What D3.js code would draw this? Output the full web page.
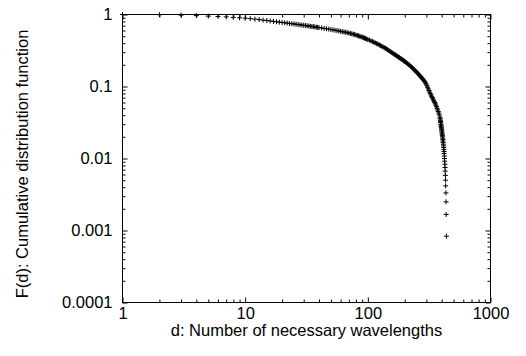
<!DOCTYPE html>
<html>
<head>
<meta charset="utf-8">
<script src="https://cdn.jsdelivr.net/npm/d3@7"></script>
<style>
  body { margin: 0; background: #fff; }
  svg text { font-family: "Liberation Sans", Arial, sans-serif; fill: #000; }
</style>
</head>
<body>
<svg id="chart" width="526" height="356"></svg>
<script>
// d = number of necessary wavelengths, F = cumulative distribution
const dHead = [1, 2, 3, 4, 5, 6, 7, 8, 9, 10, 11, 12, 13, 14, 15, 16, 17, 18, 19, 20,
  21, 22, 23, 24, 25, 26, 27, 28, 29, 30, 31, 32, 33, 34, 35, 36, 37, 38, 39, 40];
const fHead = [1.000, 0.994, 0.981, 0.965, 0.950, 0.938, 0.926, 0.911, 0.900, 0.888,
  0.876, 0.863, 0.850, 0.836, 0.824, 0.812, 0.802, 0.792, 0.783, 0.774,
  0.767, 0.760, 0.752, 0.745, 0.738, 0.732, 0.726, 0.719, 0.714, 0.708,
  0.702, 0.697, 0.691, 0.686, 0.681, 0.677, 0.672, 0.667, 0.662, 0.658];

const dMid = [42, 44, 46, 48, 50, 52, 54, 56, 58, 60, 62, 64, 66, 68, 70, 72, 74, 76, 78, 80,
  82, 84, 86, 88, 90, 92, 94, 96, 98, 100,
  103, 106, 109, 112, 115, 118, 121, 124, 127, 130, 133, 136, 139, 142, 145, 148, 151,
  154, 157, 160, 163, 166, 169, 172, 175, 178, 181, 184, 187, 190, 193, 196, 199];
const fMid = [0.649, 0.641, 0.634, 0.627, 0.619, 0.612, 0.605, 0.598, 0.591, 0.584,
  0.578, 0.571, 0.566, 0.560, 0.553, 0.546, 0.539, 0.533, 0.526, 0.519,
  0.512, 0.504, 0.498, 0.491, 0.484, 0.477, 0.470, 0.463, 0.456, 0.449,
  0.440, 0.431, 0.422, 0.412, 0.403, 0.395, 0.387, 0.378, 0.370, 0.362, 0.355, 0.347,
  0.339, 0.332, 0.324, 0.317, 0.310, 0.303, 0.296, 0.289, 0.283, 0.278, 0.272, 0.267,
  0.261, 0.256, 0.251, 0.246, 0.242, 0.237, 0.233, 0.228, 0.224];

const dHigh = [203, 207, 211, 215, 219, 223, 227, 231, 235, 239, 243, 247, 251, 255, 259,
  263, 267, 271, 275, 279, 283, 287, 291, 295, 299, 303, 307, 311, 315, 319, 323, 327,
  331, 335, 339, 343, 347, 351, 355, 359, 363, 367, 371, 375, 379, 383, 387];
const fHigh = [0.2183, 0.2128, 0.2074, 0.2020, 0.1970, 0.1917, 0.1862, 0.1809, 0.1758,
  0.1708, 0.1660, 0.1613, 0.1567, 0.1523, 0.1480, 0.1438, 0.1397, 0.1357, 0.1319, 0.1281,
  0.1243, 0.1204, 0.1166, 0.1122, 0.1080, 0.1026, 0.0975, 0.0926, 0.0880, 0.0836, 0.0799,
  0.0764, 0.0731, 0.0701, 0.0673, 0.0647, 0.0623, 0.0599, 0.0575, 0.0550, 0.0524, 0.0498,
  0.0473, 0.0449, 0.0427, 0.0403, 0.0376];

const dTail = [389, 390, 391, 392, 393, 394, 395, 396, 397, 398, 399, 400, 401, 402, 403,
  404, 405, 406, 408, 409, 410, 411, 413, 414, 415, 417, 418, 419, 421, 422, 423, 425,
  426, 427, 429, 430, 431, 433, 434, 435, 437];
const fTail = [0.0358, 0.0342, 0.0333, 0.0325, 0.0317, 0.0300, 0.0292, 0.0283, 0.0275,
  0.0267, 0.0258, 0.0250, 0.0242, 0.0233, 0.0225, 0.0217, 0.0208, 0.0200, 0.0192, 0.0183,
  0.0175, 0.0167, 0.0158, 0.0150, 0.0142, 0.0133, 0.0125, 0.0117, 0.0108, 0.0100,
  0.00917, 0.00833, 0.00750, 0.00667, 0.00583, 0.00500, 0.00417, 0.00333, 0.00250,
  0.00167, 0.000833];

const xTicks = [1, 10, 100, 1000];
const yTicks = [0.0001, 0.001, 0.01, 0.1, 1];
const yTickLabels = ["0.0001", "0.001", "0.01", "0.1", "1"];
const xTitle = "d: Number of necessary wavelengths";
const yTitle = "F(d): Cumulative distribution function";

const dAll = dHead.concat(dMid, dHigh, dTail);
const fAll = fHead.concat(fMid, fHigh, fTail);
const points = dAll.map((d, i) => ({ d: d, f: fAll[i] }));

const L = 122.5, R = 490.5, T = 14.5, B = 302.5;
const MAJOR = 5, MINOR = 3;
const FONT = "16.5px";

const x = d3.scaleLog().domain([1, 1000]).range([L, R]);
const y = d3.scaleLog().domain([0.0001, 1]).range([B, T]);

// minor ticks: 2..9 of each decade
const xMinor = [];
[1, 10, 100].forEach(b => { for (let k = 2; k <= 9; k++) xMinor.push(b * k); });
const yMinor = [];
[0.0001, 0.001, 0.01, 0.1].forEach(b => { for (let k = 2; k <= 9; k++) yMinor.push(+(b * k).toPrecision(3)); });

const svg = d3.select("#chart");

function styleAxis(g) {
    g.select(".domain").remove();
    g.selectAll(".tick line").attr("stroke", "#000").attr("stroke-width", 1);
    g.selectAll(".tick text").style("font-size", FONT).attr("fill", "#000");
}

// bottom
svg.append("g").attr("transform", `translate(0,${B})`)
    .call(d3.axisBottom(x).tickValues(xTicks).tickSizeInner(-MAJOR).tickSizeOuter(0)
        .tickPadding(5).tickFormat(d => String(d)))
    .call(styleAxis);
svg.append("g").attr("transform", `translate(0,${B})`)
    .call(d3.axisBottom(x).tickValues(xMinor).tickSizeInner(-MINOR).tickSizeOuter(0).tickFormat(""))
    .call(styleAxis);
// top (mirror)
svg.append("g").attr("transform", `translate(0,${T})`)
    .call(d3.axisTop(x).tickValues(xTicks).tickSizeInner(-MAJOR).tickSizeOuter(0).tickFormat(""))
    .call(styleAxis);
svg.append("g").attr("transform", `translate(0,${T})`)
    .call(d3.axisTop(x).tickValues(xMinor).tickSizeInner(-MINOR).tickSizeOuter(0).tickFormat(""))
    .call(styleAxis);
// left
svg.append("g").attr("transform", `translate(${L},0)`)
    .call(d3.axisLeft(y).tickValues(yTicks).tickSizeInner(-MAJOR).tickSizeOuter(0)
        .tickPadding(10).tickFormat((d, i) => yTickLabels[i]))
    .call(styleAxis);
svg.append("g").attr("transform", `translate(${L},0)`)
    .call(d3.axisLeft(y).tickValues(yMinor).tickSizeInner(-MINOR).tickSizeOuter(0).tickFormat(""))
    .call(styleAxis);
// right (mirror)
svg.append("g").attr("transform", `translate(${R},0)`)
    .call(d3.axisRight(y).tickValues(yTicks).tickSizeInner(-MAJOR).tickSizeOuter(0).tickFormat(""))
    .call(styleAxis);
svg.append("g").attr("transform", `translate(${R},0)`)
    .call(d3.axisRight(y).tickValues(yMinor).tickSizeInner(-MINOR).tickSizeOuter(0).tickFormat(""))
    .call(styleAxis);

// frame
svg.append("rect")
    .attr("x", L).attr("y", T)
    .attr("width", R - L).attr("height", B - T)
    .attr("fill", "none").attr("stroke", "#000").attr("stroke-width", 1);

// plus markers
const pts = svg.append("g").attr("stroke", "#000").attr("stroke-width", 1).attr("fill", "none");
pts.selectAll("path")
    .data(points)
    .join("path")
    .attr("d", p => {
        const cx = x(p.d), cy = y(p.f), h = 2.5;
        return `M${cx - h},${cy}H${cx + h}M${cx},${cy - h}V${cy + h}`;
    });

// axis titles
svg.append("text")
    .attr("x", (L + R) / 2).attr("y", 336)
    .attr("text-anchor", "middle")
    .style("font-size", FONT)
    .text(xTitle);

svg.append("text")
    .attr("transform", `translate(28,164) rotate(-90)`)
    .attr("text-anchor", "middle")
    .style("font-size", FONT)
    .text(yTitle);
</script>
</body>
</html>
